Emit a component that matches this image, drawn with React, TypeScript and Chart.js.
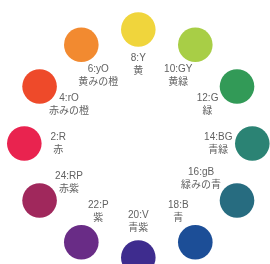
import React, { useEffect, useRef } from "react";
import { Chart, registerables } from "chart.js";

Chart.register(...registerables);

const hueNumbers = [8, 10, 12, 14, 16, 18, 20, 22, 24, 2, 4, 6];
const codes = ["Y", "GY", "G", "BG", "gB", "B", "V", "P", "RP", "R", "rO", "yO"];
const names = ["黄", "黄緑", "緑", "青緑", "緑みの青", "青", "青紫", "紫", "赤紫", "赤", "赤みの橙", "黄みの橙"];
const colors = [
  "#F0D53C", "#A8CE46", "#329A57", "#2B8374", "#276C80", "#1C4E97",
  "#3E2C8E", "#692C86", "#A0285C", "#E9234F", "#EE4A2A", "#F28A30",
];

const angleOf = (h: number) => ((90 - (h - 8) * 15) * Math.PI) / 180;

const FONT = "10px 'Liberation Sans', 'Noto Sans CJK JP', sans-serif";
const RADIUS = 17.3;

const labelPlugin = {
  id: "wheelLabels",
  afterDatasetsDraw(chart: any) {
    const ctx = chart.ctx;
    const meta = chart.getDatasetMeta(0);
    ctx.save();
    ctx.font = FONT;
    ctx.fillStyle = "#626262";
    ctx.textAlign = "center";
    ctx.textBaseline = "middle";
    const lineH = 13;
    const glyphH = 10;
    meta.data.forEach((el: any, i: number) => {
      const a = angleOf(hueNumbers[i]);
      const dx = -Math.cos(a);
      const dy = Math.sin(a);
      const lines = [`${hueNumbers[i]}:${codes[i]}`, names[i]];
      const widths = lines.map((t) => ctx.measureText(t).width);
      const fits = (ox: number, oy: number) =>
        lines.every((_, j) => {
          const ly = oy + (j === 0 ? -lineH / 2 : lineH / 2);
          const x0 = ox - widths[j] / 2, x1 = ox + widths[j] / 2;
          const y0 = ly - glyphH / 2, y1 = ly + glyphH / 2;
          const nx = Math.max(x0, Math.min(0, x1));
          const ny = Math.max(y0, Math.min(0, y1));
          return Math.hypot(nx, ny) >= RADIUS + 1.5;
        });
      let s = 1;
      let ox = dx * 34 * s, oy = dy * 35.5 * s;
      while (!fits(ox, oy) && s < 3) {
        s += 0.01;
        ox = dx * 34 * s;
        oy = dy * 35.5 * s;
      }
      const cx = el.x + ox;
      const cy = el.y + oy;
      ctx.fillText(lines[0], cx, cy - lineH / 2);
      ctx.fillText(lines[1], cx, cy + lineH / 2);
    });
    ctx.restore();
  },
};

export default function App() {
  const ref = useRef<HTMLCanvasElement | null>(null);
  useEffect(() => {
    if (!ref.current) return;
    const data = hueNumbers.map((h) => ({ x: Math.cos(angleOf(h)), y: Math.sin(angleOf(h)) }));
    const chart = new Chart(ref.current, {
      type: "scatter",
      data: {
        datasets: [
          {
            data,
            backgroundColor: colors,
            borderColor: colors,
            borderWidth: 0,
            pointRadius: RADIUS,
            pointHoverRadius: RADIUS,
            clip: false,
          } as any,
        ],
      },
      options: {
        responsive: false,
        animation: false,
        layout: { padding: 0, autoPadding: false } as any,
        plugins: { legend: { display: false }, tooltip: { enabled: false } },
        scales: {
          x: { display: false, min: -1.2132, max: 1.1553 },
          y: { display: false, min: -1.057, max: 1.2588 },
        },
      },
      plugins: [labelPlugin],
    });
    return () => chart.destroy();
  }, []);
  return (
    <div style={{ position: "absolute", left: 0, top: 0, width: 270, height: 264 }}>
      <canvas ref={ref} width={270} height={264} />
    </div>
  );
}
